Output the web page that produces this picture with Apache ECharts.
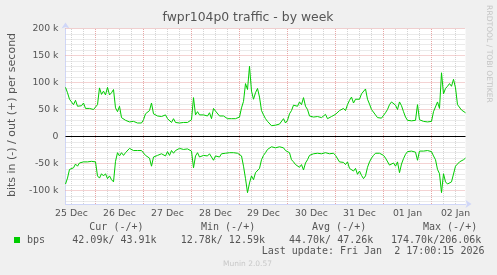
<!DOCTYPE html>
<html><head><meta charset="utf-8">
<script src="https://cdn.jsdelivr.net/npm/echarts@6/dist/echarts.min.js"></script>
<style>html,body{margin:0;padding:0;background:#f0f0f0;}#c{width:497px;height:275px;}</style>
</head><body><div id="c"></div>
<script>
// hours counted from 25 Dec 00:00; one value per hour (k bits/s)
const startHour = 9;
const endHour = 209;
const outBps = [
  91,81,69,70,59,67,56,54,57,62,
  52,53,52,51,50,49,59,90,78,84,
  77,91,77,81,87,53,46,56,35,36,
  30,33,27,30,28,25,25,26,25,31,
  42,44,48,62,42,40,38,40,37,35,
  40,33,33,26,33,26,26,25,25,26,
  25,26,27,31,72,40,46,40,42,40,
  42,38,44,33,52,47,44,38,40,38,
  36,33,33,33,31,33,33,36,53,65,
  98,87,130,84,69,81,89,73,48,40,
  33,28,26,20,17,21,22,23,23,33,
  25,30,42,48,58,60,56,64,59,72,
  56,50,38,41,36,36,37,38,35,36,
  41,33,36,37,38,41,43,48,51,52,
  48,59,67,73,62,69,72,69,79,77,
  88,69,60,50,53,40,35,33,34,36,
  44,50,59,64,62,58,50,64,57,46,
  36,30,31,29,30,30,59,31,28,28,
  28,27,27,28,46,46,64,52,118,79,
  89,93,98,93,106,90,59,56,49,49,
  44
];
const inBps = [
  -88,-77,-61,-64,-58,-51,-55,-49,-52,-47,
  -49,-47,-46,-46,-46,-47,-73,-77,-69,-73,
  -69,-78,-73,-80,-84,-46,-30,-36,-30,-35,
  -30,-27,-22,-20,-26,-27,-26,-28,-26,-28,
  -35,-38,-40,-55,-38,-36,-35,-33,-32,-31,
  -36,-28,-35,-26,-31,-26,-24,-22,-23,-24,
  -24,-23,-25,-27,-58,-36,-30,-38,-36,-35,
  -37,-36,-32,-29,-44,-36,-38,-38,-32,-30,
  -31,-30,-30,-28,-30,-30,-31,-31,-36,-55,
  -78,-104,-86,-73,-80,-67,-67,-59,-43,-35,
  -30,-24,-24,-19,-20,-21,-20,-19,-21,-21,
  -26,-25,-30,-43,-47,-52,-54,-57,-52,-62,
  -49,-43,-35,-35,-32,-33,-31,-30,-32,-35,
  -30,-31,-32,-30,-31,-35,-38,-47,-47,-48,
  -52,-47,-59,-61,-64,-59,-70,-64,-72,-78,
  -73,-57,-47,-40,-35,-31,-32,-31,-31,-35,
  -40,-43,-53,-55,-49,-55,-47,-67,-51,-41,
  -33,-28,-27,-27,-28,-29,-44,-27,-27,-27,
  -26,-26,-26,-28,-36,-43,-61,-69,-104,-69,
  -84,-88,-90,-84,-81,-55,-52,-47,-46,-43,
  -40
];
const dayLabels = ['25 Dec','26 Dec','27 Dec','28 Dec','29 Dec','30 Dec','31 Dec','01 Jan','02 Jan'];
const yMin = -125, yMax = 200;
const legendHeaders = ['Cur (-/+)','Min (-/+)','Avg (-/+)','Max (-/+)'];
const legendValues = ['42.09k/ 43.91k','12.78k/ 12.59k','44.70k/ 47.26k','174.70k/206.06k'];
const lastUpdate = 'Last update: Fri Jan  2 17:00:15 2026';

const outData = outBps.map((v,i)=>[startHour+i, v]);
const inData = inBps.map((v,i)=>[startHour+i, v]);

const MAJ = '#e8a6a6', MIN = '#d4d4d4';
const gridLines = [];
for (let h = 12; h <= 204; h += 6) {
  const major = h % 24 === 0;
  gridLines.push({xAxis: h, lineStyle: {color: major ? MAJ : MIN, type: [1,1], width: 1}});
}
for (let v = -120; v <= 200; v += 10) {
  if (v === 0) continue;
  const major = v % 50 === 0;
  gridLines.push({yAxis: v, lineStyle: {color: major ? MAJ : MIN, type: [1,1], width: 1}});
}
gridLines.push({yAxis: 0, lineStyle: {color: '#000000', type: 'solid', width: 1}});

const FONT = 'DejaVu Sans';
const MONO = 'DejaVu Sans Mono';
const TXT = '#555555';
const colX = [89.3, 201, 312, 423];
const valX = [72.3, 180.7, 289, 391];

const graphics = [
  {type:'text', x:248, y:17.5, style:{text:'fwpr104p0 traffic - by week', font:'12.4px "DejaVu Sans"', fill:TXT, align:'center', verticalAlign:'middle'}},
  {type:'text', x:12, y:115, rotation:Math.PI/2, style:{text:'bits in (-) / out (+) per second', font:'11px "DejaVu Sans"', fill:TXT, align:'center', verticalAlign:'middle'}},
  {type:'text', x:489, y:54, rotation:-Math.PI/2, style:{text:'RRDTOOL / TOBI OETIKER', font:'7.6px "DejaVu Sans"', fill:'#c4c4c4', align:'center', verticalAlign:'middle'}},
  {type:'rect', shape:{x:14, y:237, width:6, height:6}, style:{fill:'#00cc00'}},
  {type:'text', x:27, y:240, style:{text:'bps', font:'10px "DejaVu Sans Mono"', fill:TXT, align:'left', verticalAlign:'middle'}},
  {type:'text', x:261.7, y:251.5, style:{text:lastUpdate, font:'10px "DejaVu Sans Mono"', fill:TXT, align:'left', verticalAlign:'middle'}},
  {type:'text', x:247.5, y:263.7, style:{text:'Munin 2.0.57', font:'7.5px "DejaVu Sans"', fill:'#c8c8c8', align:'center', verticalAlign:'middle'}}
];
legendHeaders.forEach((t,i)=>graphics.push({type:'text', x:colX[i], y:227.5, style:{text:t, font:'10px "DejaVu Sans Mono"', fill:TXT, align:'left', verticalAlign:'middle'}}));
legendValues.forEach((t,i)=>graphics.push({type:'text', x:valX[i], y:240, style:{text:t, font:'10px "DejaVu Sans Mono"', fill:TXT, align:'left', verticalAlign:'middle'}}));

const chart = echarts.init(document.getElementById('c'), null, {renderer:'canvas'});
chart.setOption({
  animation:false,
  backgroundColor:'#f0f0f0',
  grid:{left:65.5, top:28.5, width:400, height:175.5, show:true, backgroundColor:'#ffffff', borderWidth:0},
  xAxis:{
    type:'value', min:startHour, max:endHour, interval:3,
    axisLine:{onZero:false, show:true, lineStyle:{color:'#cfd6f8', width:1}, symbol:['none','arrow'], symbolSize:[6,6], symbolOffset:[0,6]},
    axisTick:{show:false}, splitLine:{show:false},
    axisLabel:{margin:5, color:TXT, fontFamily:FONT, fontSize:9.3,
      formatter:(v)=>{ const k=(v-12)/24; return (Number.isInteger(k) && dayLabels[k]) ? dayLabels[k] : ''; }}
  },
  yAxis:{
    type:'value', min:yMin, max:yMax, interval:25,
    axisLine:{show:true, lineStyle:{color:'#cfd6f8', width:1}, symbol:['none','arrow'], symbolSize:[6,6], symbolOffset:[0,6]},
    axisTick:{show:false}, splitLine:{show:false},
    axisLabel:{margin:7, color:TXT, fontFamily:FONT, fontSize:9.3,
      formatter:(v)=> v % 50 !== 0 ? '' : (v === 0 ? '0' : v + ' k')}
  },
  graphic:graphics,
  series:[
    {type:'line', data:[[startHour,0]], showSymbol:false, silent:true, lineStyle:{opacity:0}, z:1,
     markLine:{silent:true, symbol:['none','none'], label:{show:false}, emphasis:{disabled:true}, animation:false, data:gridLines}},
    {type:'line', name:'out', data:outData, showSymbol:false, z:10, lineStyle:{color:'#00cc00', width:1}, itemStyle:{color:'#00cc00'}},
    {type:'line', name:'in', data:inData, showSymbol:false, z:10, lineStyle:{color:'#00cc00', width:1}, itemStyle:{color:'#00cc00'}}
  ]
});
</script></body></html>
